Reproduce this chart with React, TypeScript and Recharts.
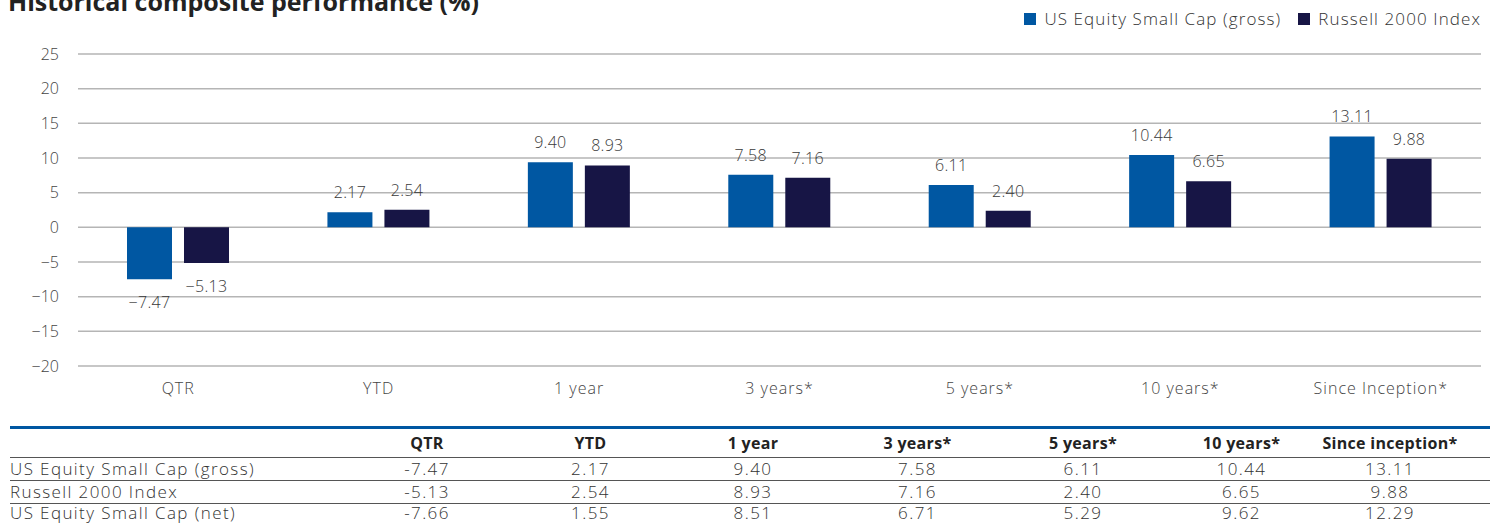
import { BarChart, Bar, XAxis, YAxis, CartesianGrid, LabelList } from "recharts";

const categories = ["QTR", "YTD", "1 year", "3 years*", "5 years*", "10 years*", "Since Inception*"];
const grossValues = [-7.47, 2.17, 9.4, 7.58, 6.11, 10.44, 13.11];
const russellValues = [-5.13, 2.54, 8.93, 7.16, 2.4, 6.65, 9.88];
const netValues = [-7.66, 1.55, 8.51, 6.71, 5.29, 9.62, 12.29];
const yTicks = [-20, -15, -10, -5, 0, 5, 10, 15, 20, 25];

const tableHeaders = ["QTR", "YTD", "1 year", "3 years*", "5 years*", "10 years*", "Since inception*"];
const seriesNames = ["US Equity Small Cap (gross)", "Russell 2000 Index", "US Equity Small Cap (net)"];

const BLUE = "#0057a2";
const NAVY = "#171545";
const FONT = "'Open Sans', 'Noto Sans', sans-serif";

const chartData = categories.map((c, i) => ({
  name: c,
  gross: grossValues[i],
  russell: russellValues[i],
}));

const tableRows = [
  { label: seriesNames[0], values: grossValues },
  { label: seriesNames[1], values: russellValues },
  { label: seriesNames[2], values: netValues },
];

// column widths for the table below the chart
const colWidths = [335, 164, 163, 162, 167, 164, 153, 144, 28];

const fmt = (v: number) => v.toFixed(2);

// value label above positive bars, below negative ones
const BarValue = (props: any) => {
  const { x, y, width, height, value } = props;
  const top = Math.min(y, y + height);
  const bottom = Math.max(y, y + height);
  const ty = value >= 0 ? top - 20 : bottom + 23;
  return (
    <text
      x={x + width / 2}
      y={ty}
      textAnchor="middle"
      dominantBaseline="central"
      fill="#3a3a3a"
      fontSize={16}
      fontFamily={FONT}
      fontWeight={300}
      letterSpacing={0.3}
    >
      {value < 0 ? "\u2212" + fmt(-value) : fmt(value)}
    </text>
  );
};

const tickStyle = { fill: "#444", fontSize: 16, fontFamily: FONT, fontWeight: 300 };

export default function App() {
  return (
    <div
      style={{
        position: "absolute",
        left: 0,
        top: 0,
        width: 1499,
        height: 525,
        overflow: "hidden",
        background: "#fff",
        fontFamily: FONT,
      }}
    >
      {/* title, cut off at the top like the source */}
      <div
        style={{
          position: "absolute",
          left: 8,
          top: -13,
          fontSize: 25,
          lineHeight: "28px",
          fontWeight: 700,
          color: "#222",
          whiteSpace: "nowrap",
        }}
      >
        Historical composite performance (%)
      </div>

      {/* legend */}
      <div
        style={{
          position: "absolute",
          right: 18,
          top: 7,
          display: "flex",
          alignItems: "center",
          fontSize: 17,
          fontWeight: 300,
          letterSpacing: 1.1,
          color: "#333",
          whiteSpace: "nowrap",
        }}
      >
        <span style={{ width: 12, height: 12, background: BLUE, marginRight: 8 }} />
        <span style={{ marginRight: 17 }}>{seriesNames[0]}</span>
        <span style={{ width: 12, height: 12, background: NAVY, marginRight: 8 }} />
        <span>{seriesNames[1]}</span>
      </div>

      <div style={{ position: "absolute", left: 0, top: 0 }}>
        <BarChart
          width={1499}
          height={410}
          data={chartData}
          margin={{ top: 54, right: 18, left: 0, bottom: 0 }}
          barSize={45}
          barGap={12}
        >
          <CartesianGrid vertical={false} stroke="#b5b5b5" strokeWidth={1.5} />
          <XAxis
            dataKey="name"
            axisLine={false}
            tickLine={false}
            height={44}
            tickSize={0}
            tickMargin={17}
            tick={{ ...tickStyle, letterSpacing: 1 }}
          />
          <YAxis
            domain={[-20, 25]}
            ticks={yTicks}
            width={78}
            axisLine={false}
            tickLine={false}
            tickSize={0}
            tickMargin={19}
            tick={tickStyle}
            tickFormatter={(v: number) => (v < 0 ? "\u2212" + -v : String(v))}
          />
          <Bar dataKey="gross" fill={BLUE} isAnimationActive={false}>
            <LabelList dataKey="gross" content={BarValue} />
          </Bar>
          <Bar dataKey="russell" fill={NAVY} isAnimationActive={false}>
            <LabelList dataKey="russell" content={BarValue} />
          </Bar>
        </BarChart>
      </div>

      {/* data table */}
      <div
        style={{
          position: "absolute",
          left: 10,
          top: 426,
          width: 1480,
          borderTop: `3px solid ${BLUE}`,
          color: "#333",
        }}
      >
        <div
          style={{
            display: "flex",
            height: 28,
            alignItems: "center",
            borderBottom: "1.5px solid #555",
            fontWeight: 700,
            fontSize: 16,
            letterSpacing: 0.3,
            color: "#222",
          }}
        >
          <div style={{ width: colWidths[0] }} />
          {tableHeaders.map((h, i) => (
            <div key={h} style={{ width: colWidths[i + 1], textAlign: "center" }}>
              {h}
            </div>
          ))}
          <div style={{ width: colWidths[8] }} />
        </div>
        {tableRows.map((r, ri) => (
          <div
            key={r.label}
            style={{
              display: "flex",
              height: ri < 2 ? 22 : 18,
              alignItems: "center",
              borderBottom: ri < 2 ? "1.5px solid #555" : "none",
              fontSize: 17,
              lineHeight: "18px",
              fontWeight: 300,
              letterSpacing: 1.4,
            }}
          >
            <div style={{ width: colWidths[0], whiteSpace: "nowrap" }}>{r.label}</div>
            {r.values.map((v, i) => (
              <div key={i} style={{ width: colWidths[i + 1], textAlign: "center" }}>
                {fmt(v)}
              </div>
            ))}
            <div style={{ width: colWidths[8] }} />
          </div>
        ))}
      </div>
    </div>
  );
}
